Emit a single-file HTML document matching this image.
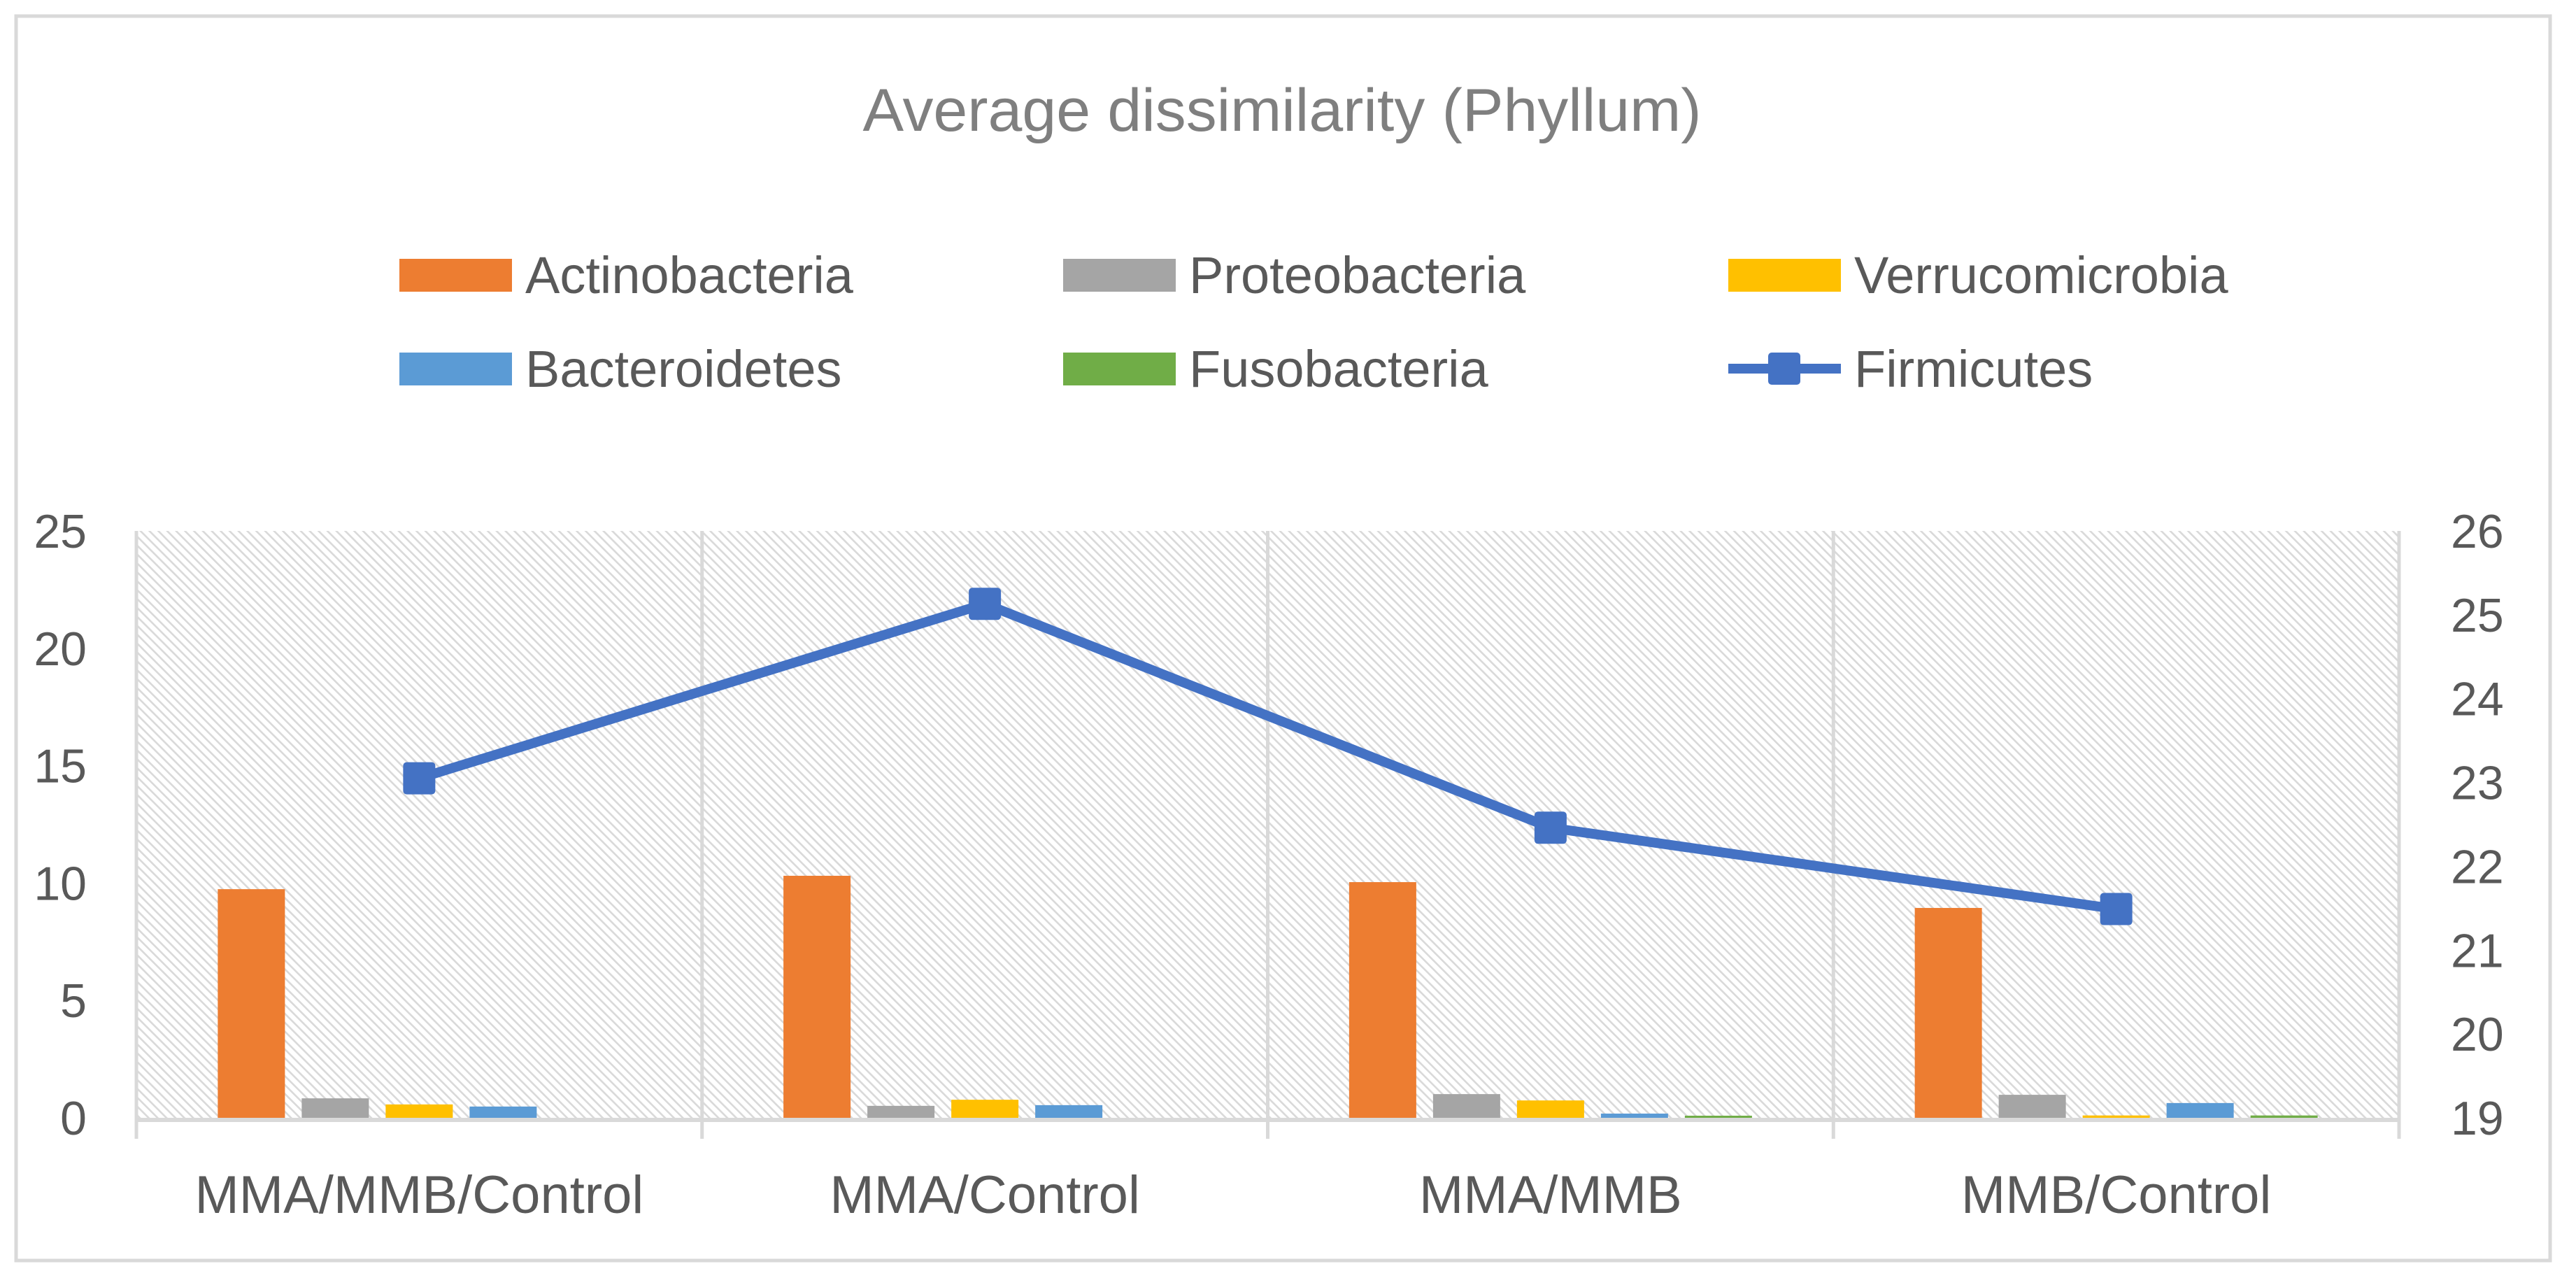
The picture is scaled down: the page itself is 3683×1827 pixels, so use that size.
<!DOCTYPE html>
<html><head><meta charset="utf-8"><style>
html,body{margin:0;padding:0;background:#fff}
svg{display:block}
text{font-family:"Liberation Sans",sans-serif;fill:#595959}
</style></head><body>
<svg id="chart" width="3683" height="1827" viewBox="0 0 3683 1827" xmlns="http://www.w3.org/2000/svg">
<defs>
<pattern id="hatch" width="9" height="9" patternUnits="userSpaceOnUse" patternTransform="rotate(-45)">
<rect width="9" height="9" fill="#ffffff"/>
<rect x="0" y="0" width="2.6" height="9" fill="#d9d9d9"/>
</pattern>
</defs>
<rect x="23" y="23" width="3623" height="1779" fill="#fff" stroke="#d9d9d9" stroke-width="5"/>
<text x="1833" y="187" text-anchor="middle" font-size="86" style="fill:#7f7f7f" textLength="1199" lengthAdjust="spacingAndGlyphs">Average dissimilarity (Phyllum)</text>
<g id="legend"></g>
<rect x="195" y="759" width="3235" height="839" fill="url(#hatch)"/>
<g id="grid"></g>
<g id="bars"></g>
<g id="line"></g>
<g id="axes"></g>
</svg>
<script>
const categories = ["MMA/MMB/Control","MMA/Control","MMA/MMB","MMB/Control"];
const seriesNames = ["Actinobacteria","Proteobacteria","Verrucomicrobia","Bacteroidetes","Fusobacteria"];
const actinobacteria = [9.74, 10.31, 10.04, 8.94];
const proteobacteria = [0.83, 0.51, 1.01, 0.98];
const verrucomicrobia = [0.57, 0.77, 0.74, 0.1];
const bacteroidetes = [0.48, 0.54, 0.18, 0.63];
const fusobacteria = [0, 0, 0.09, 0.1];
const firmicutes = [23.05, 25.13, 22.46, 21.49];
const leftTicks = [0, 5, 10, 15, 20, 25];
const rightTicks = [19, 20, 21, 22, 23, 24, 25, 26];

const NS = "http://www.w3.org/2000/svg";
const colors = ["#ED7D31","#A5A5A5","#FFC000","#5B9BD5","#70AD47"];
const barSeries = [actinobacteria, proteobacteria, verrucomicrobia, bacteroidetes, fusobacteria];
const X0 = 195, X1 = 3430, Y0 = 1598, Y1 = 759;
const catW = (X1 - X0) / categories.length;
function yL(v){ return Y0 - (v - 0) / (25 - 0) * (Y0 - Y1); }
function yR(v){ return Y0 - (v - 19) / (26 - 19) * (Y0 - Y1); }
function xC(i){ return X0 + catW * (i + 0.5); }
function mk(tag, attrs, parent){ const e = document.createElementNS(NS, tag); for (const k in attrs) e.setAttribute(k, attrs[k]); parent.appendChild(e); return e; }

const grid = document.getElementById('grid');
for (let i = 1; i < categories.length; i++) {
  const g = mk('line', {x1: X0 + catW*i, x2: X0 + catW*i, y1: Y1, y2: Y0 + 30, stroke: '#d9d9d9', 'stroke-width': 5}, grid);
  
  
}

const bars = document.getElementById('bars');
const step = 120, bw = 96;
barSeries.forEach((vals, s) => {
  vals.forEach((v, i) => {
    const cx = xC(i) + (s - 2) * step;
    const r = mk('rect', {x: cx - bw/2, y: yL(v), width: bw, height: Math.max(0, Y0 - yL(v)), fill: colors[s]}, bars);
    
    
  });
});

const axes = document.getElementById('axes');
const base = mk('line', {x1: X0 - 2, x2: X1, y1: Y0 + 3, y2: Y0 + 3, stroke: '#d9d9d9', 'stroke-width': 6}, axes);


const la = mk('line', {x1: X0, x2: X0, y1: Y1, y2: Y0 + 30, stroke: '#d9d9d9', 'stroke-width': 5}, axes);


const ra = mk('line', {x1: X1, x2: X1, y1: Y1, y2: Y0 + 30, stroke: '#d9d9d9', 'stroke-width': 5}, axes);



leftTicks.forEach(t => {
  const e = mk('text', {x: 124, y: yL(t) + 24, 'text-anchor': 'end', 'font-size': 68}, axes);
  e.textContent = t;
  
  
});
rightTicks.forEach(t => {
  const e = mk('text', {x: 3504, y: yR(t) + 24, 'text-anchor': 'start', 'font-size': 68}, axes);
  e.textContent = t;
  
  
});
categories.forEach((c, i) => {
  const e = mk('text', {x: xC(i), y: 1734, 'text-anchor': 'middle', 'font-size': 76}, axes);
  e.textContent = c;
  
  
});

const lg = document.getElementById('line');
const pts = firmicutes.map((v, i) => xC(i) + ',' + yR(v)).join(' ');
const pl = mk('polyline', {points: pts, fill: 'none', stroke: '#4472C4', 'stroke-width': 14, 'stroke-linejoin': 'round'}, lg);


firmicutes.forEach((v, i) => {
  const m = mk('rect', {x: xC(i) - 23, y: yR(v) - 23, width: 46, height: 46, rx: 5, fill: '#4472C4'}, lg);
  
  
});

const legend = document.getElementById('legend');
const legX = [571, 1520, 2471];
const legendItems = ["Actinobacteria","Proteobacteria","Verrucomicrobia","Bacteroidetes","Fusobacteria","Firmicutes"];
const legColors = ["#ED7D31","#A5A5A5","#FFC000","#5B9BD5","#70AD47","#4472C4"];
legendItems.forEach((name, k) => {
  const col = k % 3, row = Math.floor(k / 3);
  const x = legX[col], yTop = row === 0 ? 370 : 504;
  if (k === 5) {
    const l = mk('line', {x1: x, x2: x + 161, y1: yTop + 23, y2: yTop + 23, stroke: '#4472C4', 'stroke-width': 14}, legend);
    
    
    const m = mk('rect', {x: x + 80 - 23, y: yTop, width: 46, height: 46, rx: 5, fill: '#4472C4'}, legend);
    
    
  } else {
    const r = mk('rect', {x: x, y: yTop, width: 161, height: 47, fill: legColors[k]}, legend);
    
    
  }
  const t = mk('text', {x: x + 180, y: yTop + 49, 'font-size': 74}, legend);
  t.textContent = name;
  
  
});
</script>
</body></html>
